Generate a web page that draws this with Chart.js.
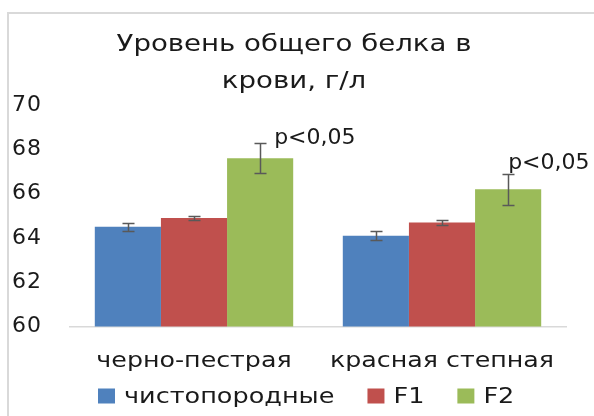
<!DOCTYPE html>
<html>
<head>
<meta charset="utf-8">
<script src="https://cdn.jsdelivr.net/npm/chart.js@4.4.1/dist/chart.umd.min.js"></script>
<style>
  html, body { margin: 0; padding: 0; background: #ffffff; }
  #wrap { position: relative; width: 594px; height: 416px; }
</style>
</head>
<body>
<div id="wrap"><canvas id="c" width="594" height="416"></canvas></div>
<script>
// Breeds on the x axis
const categories = ['черно-пестрая', 'красная степная'];
// Mean total protein, g/l
const pureValues = [64.5, 64.1];
const f1Values = [64.9, 64.7];
const f2Values = [67.6, 66.2];
// Standard errors
const pureErrors = [0.18, 0.2];
const f1Errors = [0.1, 0.11];
const f2Errors = [0.67, 0.7];
// Significance notes above F2 bars
const f2Notes = ['p<0,05', 'p<0,05'];
// Axis
const yMin = 60, yMax = 70, yStep = 2;
const titleLines = ['Уровень общего белка в', 'крови, г/л'];

const FONT = '"DejaVu Sans", Verdana, sans-serif';
const TEXT = '#1a1a1a';

// Draw text widened horizontally by sx
function wideText(ctx, text, x, y, sx) {
  ctx.save();
  ctx.translate(x, y);
  ctx.scale(sx, 1);
  ctx.fillText(text, 0, 0);
  ctx.restore();
}

// Slight tracking for the value axis digits
const spacingPlugin = {
  id: 'tracking',
  beforeUpdate(chart) { chart.ctx.letterSpacing = '1px'; },
  beforeDraw(chart) { chart.ctx.letterSpacing = '1px'; }
};

// Light frame around the chart
const framePlugin = {
  id: 'frame',
  beforeDraw(chart) {
    const ctx = chart.ctx;
    ctx.save();
    ctx.strokeStyle = '#d9d9d9';
    ctx.lineWidth = 2;
    ctx.beginPath();
    ctx.moveTo(8, chart.height);
    ctx.lineTo(8, 13);
    ctx.lineTo(chart.width, 13);
    ctx.stroke();
    ctx.restore();
  }
};

// Two-line title
const titlePlugin = {
  id: 'twoLineTitle',
  afterDraw(chart, args, opts) {
    const ctx = chart.ctx;
    ctx.save();
    ctx.font = opts.size + 'px ' + FONT;
    ctx.letterSpacing = '0px';
    ctx.fillStyle = TEXT;
    ctx.textAlign = 'center';
    ctx.textBaseline = 'alphabetic';
    opts.lines.forEach((line, i) => wideText(ctx, line, opts.x, opts.y + i * opts.lineGap, opts.stretch));
    ctx.restore();
  }
};

// Category names under the x axis
const categoryPlugin = {
  id: 'categoryLabels',
  afterDraw(chart, args, opts) {
    const ctx = chart.ctx;
    const xs = chart.scales.x;
    ctx.save();
    ctx.font = opts.size + 'px ' + FONT;
    ctx.letterSpacing = '0px';
    ctx.fillStyle = TEXT;
    ctx.textAlign = 'center';
    ctx.textBaseline = 'middle';
    chart.data.labels.forEach((lab, i) => {
      wideText(ctx, lab, xs.getPixelForTick(i), xs.top + opts.offset, opts.stretch);
    });
    ctx.restore();
  }
};

// Legend row under the axis
const legendPlugin = {
  id: 'legendRow',
  afterDraw(chart, args, opts) {
    const ctx = chart.ctx;
    ctx.save();
    ctx.font = opts.size + 'px ' + FONT;
    ctx.letterSpacing = '0px';
    ctx.textAlign = 'left';
    ctx.textBaseline = 'middle';
    let x = opts.x;
    chart.data.datasets.forEach(ds => {
      ctx.fillStyle = ds.backgroundColor;
      ctx.fillRect(x, opts.y - opts.boxH / 2, opts.boxW, opts.boxH);
      x += opts.boxW + opts.textGap;
      ctx.fillStyle = TEXT;
      wideText(ctx, ds.label, x, opts.y + 1, opts.stretch);
      x += ctx.measureText(ds.label).width * opts.stretch + opts.itemGap;
    });
    ctx.restore();
  }
};

// Error bars and notes
const errorPlugin = {
  id: 'errorBars',
  afterDatasetsDraw(chart, args, opts) {
    const ctx = chart.ctx;
    const y = chart.scales.y;
    ctx.save();
    ctx.strokeStyle = '#595959';
    ctx.lineWidth = 1.5;
    chart.data.datasets.forEach((ds, di) => {
      const meta = chart.getDatasetMeta(di);
      meta.data.forEach((bar, i) => {
        const v = ds.data[i], e = ds.errors[i];
        const top = Math.round(y.getPixelForValue(v + e)) + 0.5;
        const bot = Math.round(y.getPixelForValue(v - e)) + 0.5;
        const x = Math.round(bar.x) + 0.5;
        ctx.beginPath();
        ctx.moveTo(x, top); ctx.lineTo(x, bot);
        ctx.moveTo(x - opts.cap, top); ctx.lineTo(x + opts.cap, top);
        ctx.moveTo(x - opts.cap, bot); ctx.lineTo(x + opts.cap, bot);
        ctx.stroke();
        if (ds.notes && ds.notes[i]) {
          const off = opts.noteOffsets[i];
          ctx.font = opts.noteSize + 'px ' + FONT;
          ctx.letterSpacing = '0px';
          ctx.fillStyle = TEXT;
          ctx.textAlign = 'left';
          ctx.textBaseline = 'alphabetic';
          ctx.fillText(ds.notes[i], bar.x + off[0], top + off[1]);
        }
      });
    });
    ctx.restore();
  }
};

new Chart(document.getElementById('c'), {
  type: 'bar',
  data: {
    labels: categories,
    datasets: [
      { label: 'чистопородные', data: pureValues, errors: pureErrors, backgroundColor: '#4f81bd' },
      { label: 'F1', data: f1Values, errors: f1Errors, backgroundColor: '#c0504d' },
      { label: 'F2', data: f2Values, errors: f2Errors, notes: f2Notes, backgroundColor: '#9bbb59' }
    ]
  },
  options: {
    responsive: false,
    animation: false,
    layout: { padding: { left: 12, right: 28, top: 105, bottom: 0 } },
    datasets: { bar: { categoryPercentage: 0.8, barPercentage: 1.0 } },
    scales: {
      x: {
        grid: { display: false, drawTicks: false },
        border: { color: '#d9d9d9', width: 1.5 },
        ticks: { display: false },
        afterFit(scale) { scale.height = 89.5; }
      },
      y: {
        min: yMin, max: yMax,
        grid: { display: false, drawTicks: false },
        border: { display: false },
        afterFit(scale) { scale.width = 58; },
        ticks: {
          stepSize: yStep, crossAlign: 'far', color: TEXT,
          font: { family: FONT, size: 22 }
        }
      }
    },
    plugins: {
      legend: { display: false },
      tooltip: { enabled: false },
      twoLineTitle: { lines: titleLines, x: 294, y: 51, lineGap: 37, size: 23, stretch: 1.2 },
      categoryLabels: { offset: 35, size: 22, stretch: 1.15 },
      legendRow: { x: 98, y: 396, boxW: 17, boxH: 15, textGap: 9, itemGap: 33, size: 22, stretch: 1.16 },
      errorBars: { cap: 6, noteSize: 22, noteOffsets: [[14, 0], [0, -6]] }
    }
  },
  plugins: [spacingPlugin, framePlugin, titlePlugin, categoryPlugin, legendPlugin, errorPlugin]
});
</script>
</body>
</html>
